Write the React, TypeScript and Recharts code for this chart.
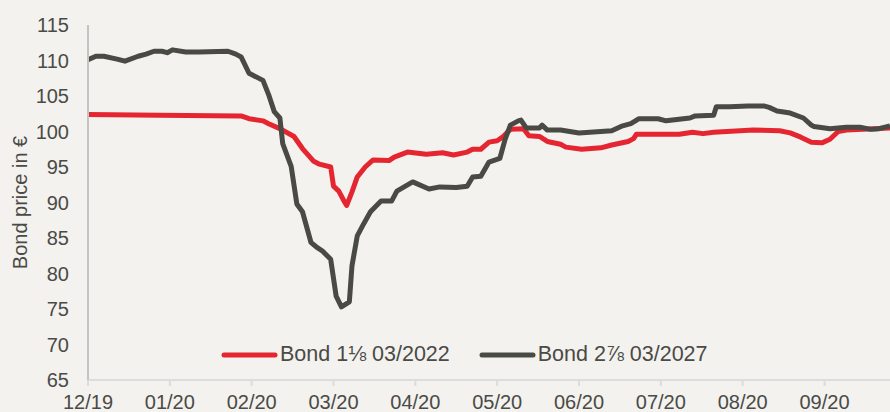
import { Line, LineChart, XAxis, YAxis } from "recharts";

const MONTH_LABELS = ["12/19", "01/20", "02/20", "03/20", "04/20", "05/20", "06/20", "07/20", "08/20", "09/20"];
const Y_TICKS = [65, 70, 75, 80, 85, 90, 95, 100, 105, 110, 115];

const BOND_2022_DATES = [
  "2019-12-01", "2019-12-28", "2020-01-28", "2020-01-31", "2020-02-05", "2020-02-07", "2020-02-11",
  "2020-02-16", "2020-02-19", "2020-02-23", "2020-02-25", "2020-02-29", "2020-03-01", "2020-03-03",
  "2020-03-05", "2020-03-06", "2020-03-08", "2020-03-10", "2020-03-13", "2020-03-16", "2020-03-22",
  "2020-03-24", "2020-03-29", "2020-04-05", "2020-04-11", "2020-04-15", "2020-04-20", "2020-04-22",
  "2020-04-25", "2020-04-28", "2020-05-01", "2020-05-03", "2020-05-06", "2020-05-11", "2020-05-13",
  "2020-05-17", "2020-05-20", "2020-05-25", "2020-05-27", "2020-06-02", "2020-06-09", "2020-06-13",
  "2020-06-19", "2020-06-21", "2020-06-22", "2020-06-30", "2020-07-08", "2020-07-13", "2020-07-17",
  "2020-07-21", "2020-08-05", "2020-08-15", "2020-08-19", "2020-08-23", "2020-08-27", "2020-08-31",
  "2020-09-03", "2020-09-06", "2020-09-09", "2020-09-25",
];
const BOND_2022_PRICES = [
  102.4, 102.3, 102.2, 101.8, 101.5, 101.1, 100.4,
  99.3, 97.6, 95.8, 95.4, 95.0, 92.3, 91.6,
  90.2, 89.6, 91.5, 93.6, 95.0, 96.0, 95.9,
  96.4, 97.1, 96.8, 97.0, 96.7, 97.1, 97.5,
  97.5, 98.5, 98.7, 99.2, 100.3, 100.4, 99.4,
  99.3, 98.6, 98.2, 97.8, 97.5, 97.7, 98.1,
  98.6, 99.0, 99.6, 99.6, 99.6, 99.9, 99.7,
  99.9, 100.2, 100.1, 99.8, 99.2, 98.5, 98.4,
  98.9, 100.0, 100.2, 100.5,
];

const BOND_2027_DATES = [
  "2019-12-01", "2019-12-04", "2019-12-07", "2019-12-12", "2019-12-15", "2019-12-20", "2019-12-23",
  "2019-12-26", "2019-12-29", "2019-12-31", "2020-01-02", "2020-01-07", "2020-01-12", "2020-01-23",
  "2020-01-26", "2020-01-28", "2020-01-31", "2020-02-05", "2020-02-07", "2020-02-09", "2020-02-11",
  "2020-02-12", "2020-02-15", "2020-02-17", "2020-02-19", "2020-02-22", "2020-02-24", "2020-02-26",
  "2020-02-29", "2020-03-02", "2020-03-04", "2020-03-07", "2020-03-08", "2020-03-10", "2020-03-12",
  "2020-03-15", "2020-03-19", "2020-03-23", "2020-03-25", "2020-03-31", "2020-04-06", "2020-04-10",
  "2020-04-16", "2020-04-20", "2020-04-22", "2020-04-25", "2020-04-28", "2020-05-02", "2020-05-04",
  "2020-05-06", "2020-05-09", "2020-05-10", "2020-05-12", "2020-05-17", "2020-05-18", "2020-05-20",
  "2020-05-25", "2020-06-01", "2020-06-13", "2020-06-17", "2020-06-20", "2020-06-23", "2020-06-30",
  "2020-07-03", "2020-07-12", "2020-07-14", "2020-07-21", "2020-07-22", "2020-07-27", "2020-08-03",
  "2020-08-09", "2020-08-11", "2020-08-14", "2020-08-19", "2020-08-24", "2020-08-27", "2020-08-28",
  "2020-09-03", "2020-09-09", "2020-09-14", "2020-09-18", "2020-09-21", "2020-09-25",
];
const BOND_2027_PRICES = [
  110.1, 110.6, 110.6, 110.2, 109.9, 110.6, 110.9,
  111.3, 111.3, 111.1, 111.5, 111.2, 111.2, 111.3,
  110.9, 110.5, 108.2, 107.2, 105.2, 102.8, 101.9,
  98.3, 95.1, 89.8, 88.7, 84.4, 83.7, 83.2,
  82.0, 76.8, 75.3, 76.0, 81.1, 85.3, 86.7,
  88.7, 90.2, 90.2, 91.6, 92.9, 91.9, 92.2,
  92.1, 92.3, 93.6, 93.7, 95.7, 96.2, 98.9,
  100.9, 101.5, 101.6, 100.5, 100.5, 100.9, 100.2,
  100.2, 99.8, 100.1, 100.8, 101.1, 101.8, 101.8,
  101.5, 101.9, 102.2, 102.3, 103.5, 103.5, 103.6,
  103.6, 103.4, 102.9, 102.6, 101.9, 100.9, 100.7,
  100.4, 100.6, 100.6, 100.3, 100.4, 100.8,
];

const RED = "#e52631";
const GREY = "#484a43";
const TEXT = "#4a4a46";
const AXIS = "#c4c4c4";
const BG = "#f3f2ee";
const FONT = '"Liberation Sans", Arial, sans-serif';

// months since Dec 2019, fraction by day of month (Excel-style month axis)
function monthPos(date: string) {
  const [y, m, d] = date.split("-").map(Number);
  const idx = (y - 2019) * 12 + (m - 1) - 11;
  const days = new Date(y, m, 0).getDate();
  return idx + (d - 1) / days;
}

const toSeries = (dates: string[], prices: number[]) =>
  dates.map((date, i) => ({ pos: monthPos(date), value: prices[i] }));

const bond2022 = toSeries(BOND_2022_DATES, BOND_2022_PRICES);
const bond2027 = toSeries(BOND_2027_DATES, BOND_2027_PRICES);
const X_END = monthPos("2020-09-25");

const LEGEND_ITEMS = [
  { label: "Bond 1⅛ 03/2022", color: RED },
  { label: "Bond 2⅞ 03/2027", color: GREY },
];

function ChartLegend() {
  return (
    <div
      style={{
        position: "absolute",
        left: 219,
        top: 342,
        display: "flex",
        alignItems: "center",
        gap: 27,
        fontFamily: FONT,
        fontSize: 21.5,
        color: TEXT,
      }}
    >
      {LEGEND_ITEMS.map((item) => (
        <div key={item.label} style={{ display: "flex", alignItems: "center" }}>
          <svg width={60} height={10}>
            <line x1={5} x2={56} y1={5} y2={5} stroke={item.color} strokeWidth={5} strokeLinecap="round" />
          </svg>
          <span style={{ marginLeft: 1 }}>{item.label}</span>
        </div>
      ))}
    </div>
  );
}

export default function App() {
  return (
    <div style={{ position: "absolute", left: 0, top: 0, width: 890, height: 412, background: BG, overflow: "hidden" }}>
      <LineChart width={890} height={412} margin={{ top: 25, right: 0, bottom: 0, left: 0 }}>
        <XAxis
          type="number"
          dataKey="pos"
          domain={[0, X_END]}
          ticks={MONTH_LABELS.map((_, i) => i)}
          tickFormatter={(v: number) => MONTH_LABELS[v] ?? ""}
          axisLine={{ stroke: "#dcdcdc", strokeWidth: 2 }}
          tickLine={{ stroke: "#dcdcdc", strokeWidth: 2 }}
          tickSize={6}
          tickMargin={9}
          height={32}
          tick={{ fill: TEXT, fontSize: 20, fontFamily: FONT }}
          allowDataOverflow
        />
        <YAxis
          type="number"
          domain={[65, 115]}
          ticks={Y_TICKS}
          width={88}
          axisLine={{ stroke: AXIS, strokeWidth: 2 }}
          tickLine={false}
          tickMargin={13}
          tick={{ fill: TEXT, fontSize: 20, fontFamily: FONT }}
          label={{
            value: "Bond price in €",
            angle: -90,
            position: "insideLeft",
            offset: 20,
            style: { textAnchor: "middle", fill: TEXT, fontSize: 20, fontFamily: FONT },
          }}
        />
        <Line
          data={bond2022}
          dataKey="value"
          type="linear"
          stroke={RED}
          strokeWidth={5}
          strokeLinejoin="round"
          dot={false}
          activeDot={false}
          isAnimationActive={false}
        />
        <Line
          data={bond2027}
          dataKey="value"
          type="linear"
          stroke={GREY}
          strokeWidth={5}
          strokeLinejoin="round"
          dot={false}
          activeDot={false}
          isAnimationActive={false}
        />
      </LineChart>
      <ChartLegend />
    </div>
  );
}
